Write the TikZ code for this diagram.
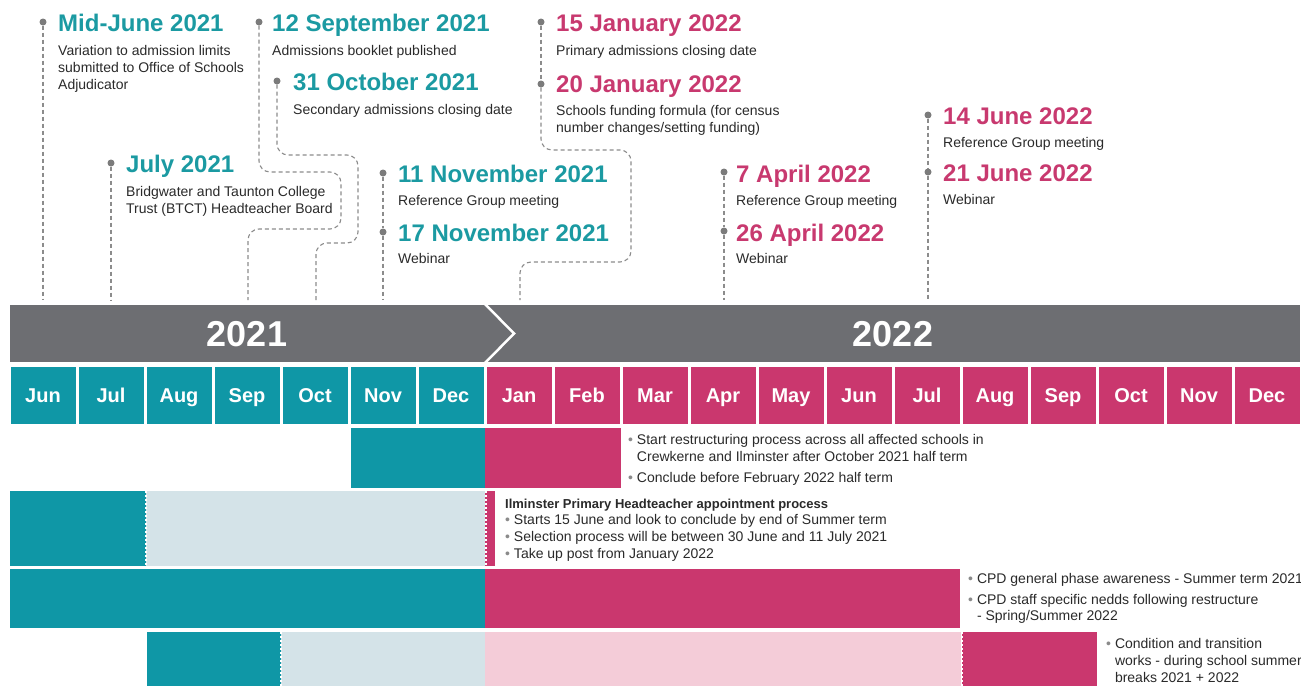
\documentclass[tikz,border=0pt]{standalone}
\usepackage{fontspec}
\setmainfont{Liberation Sans}
\definecolor{teal1}{HTML}{0F97A6}
\definecolor{pink1}{HTML}{CA376E}
\definecolor{tealT}{HTML}{1B9AA2}
\definecolor{pinkT}{HTML}{C8396F}
\definecolor{barg}{HTML}{6D6E72}
\definecolor{lblue}{HTML}{D4E3E8}
\definecolor{lpink}{HTML}{F4CCD8}
\definecolor{dotg}{HTML}{7B7B7B}
\definecolor{lineg}{HTML}{8C8C8C}
\definecolor{txt}{HTML}{2A2A2A}
\definecolor{bul}{HTML}{8A8A8A}
\newcommand{\fl}{\rule{0pt}{11pt}}
\newcommand{\bu}{{\color{bul}\textbullet}\ }
\newcommand{\bi}{\phantom{\textbullet\ }}
\tikzset{
 evdot/.style={circle, fill=dotg, inner sep=0pt, minimum size=7pt},
 conn/.style={draw=lineg, line width=1.1pt, dash pattern=on 4pt off 3pt, rounded corners=11pt},
 ttl/.style={anchor=base west, inner sep=0pt, font=\fontsize{24}{28}\selectfont\bfseries},
 dsc/.style={anchor=north west, inner sep=0pt, align=left, text=txt, font=\fontsize{14}{17}\selectfont},
 cell/.style={minimum width=65pt, minimum height=57pt, inner sep=0pt, text=white, font=\fontsize{20}{24}\selectfont\bfseries, text height=14pt, text depth=0pt},
 yr/.style={text=white, inner sep=0pt, anchor=base, font=\fontsize{36}{40}\selectfont\bfseries},
 gtxt/.style={anchor=north west, inner sep=0pt, align=left, text=txt, font=\fontsize{14}{17}\selectfont},
 perf/.style={draw=white, line width=2pt, dash pattern=on 2pt off 2pt},
}
\begin{document}
\begin{tikzpicture}[x=1pt,y=-1pt]
\useasboundingbox (0,0) rectangle (1301,686);
\fill[white] (0,0) rectangle (1301,686);

% year bar
\fill[barg] (10,305) rectangle (1300,362);
\draw[white, line width=2.5pt] (485,304) -- (514,333.5) -- (485,363);
\node[yr] (y1) at (247,346) {2021};
\node[yr] (y2) at (893,346) {2022};

% months
\foreach \m [count=\i from 0] in {Jun,Jul,Aug,Sep,Oct,Nov,Dec,Jan,Feb,Mar,Apr,May,Jun,Jul,Aug,Sep,Oct,Nov,Dec} {
  \pgfmathsetmacro\cx{43+68*\i}
  \ifnum\i<7 \def\cc{teal1}\else\def\cc{pink1}\fi
  \node[cell, fill=\cc] (m\i) at (\cx,395.5) {\m};
}

% gantt rows
\fill[teal1] (351,428) rectangle (485,488);
\fill[pink1] (485,428) rectangle (621,488);

\fill[teal1] (10,491) rectangle (146,566);
\fill[lblue] (146,491) rectangle (485,566);
\fill[pink1] (485,491) rectangle (495,566);
\draw[perf] (146,491) -- (146,566);
\draw[perf] (486,491) -- (486,566);

\fill[teal1] (10,569) rectangle (485,628);
\fill[pink1] (485,569) rectangle (960,628);

\fill[teal1] (147,632) rectangle (281,686);
\fill[lblue] (281,632) rectangle (485,686);
\fill[lpink] (485,632) rectangle (961,686);
\fill[pink1] (962,632) rectangle (1097,686);
\draw[perf] (281,632) -- (281,686);
\draw[perf] (962,632) -- (962,686);

% gantt texts
\node[gtxt] (g1) at (628,433) {\fl\bu Start restructuring process across all affected schools in\\ \bi Crewkerne and Ilminster after October 2021 half term\\[4pt] \bu Conclude before February 2022 half term};
\node[gtxt, font=\fontsize{14}{16.7}\selectfont] (g2) at (505,497) {\fl{\fontsize{13}{16.7}\selectfont\bfseries Ilminster Primary Headteacher appointment process}\\ \bu Starts 15 June and look to conclude by end of Summer term\\ \bu Selection process will be between 30 June and 11 July 2021\\ \bu Take up post from January 2022};
\node[gtxt, font=\fontsize{14}{16.5}\selectfont] (g3) at (968,572) {\fl\bu CPD general phase awareness - Summer term 2021\\[4.5pt] \bu CPD staff specific nedds following restructure\\ \bi - Spring/Summer 2022};
\node[gtxt] (g4) at (1106,637) {\fl\bu Condition and transition\\ \bi works - during school summer\\ \bi breaks 2021 + 2022};

% event dots
\node[evdot] (d1) at (43,22) {};
\node[evdot] (d2) at (259,22) {};
\node[evdot] (d3) at (277,81) {};
\node[evdot] (d4) at (111,163) {};
\node[evdot] (d5) at (383,173) {};
\node[evdot] (d6) at (383,232) {};
\node[evdot] (d7) at (541,22) {};
\node[evdot] (d8) at (541,84) {};
\node[evdot] (d9) at (724,172) {};
\node[evdot] (d10) at (724,231) {};
\node[evdot] (d11) at (928,115) {};
\node[evdot] (d12) at (928,172) {};

% line ends
\coordinate (e1) at (43,300);
\coordinate (e2) at (248,300);
\coordinate (e3) at (316,300);
\coordinate (e4) at (111,300);
\coordinate (e5) at (383,300);
\coordinate (e6) at (520,300);
\coordinate (e7) at (724,300);
\coordinate (e8) at (928,300);

\draw[conn] (d1) -- (e1);
\draw[conn] (d2) -- (259,172) -- (341,172) -- (341,229) -- (248,229) -- (e2);
\draw[conn] (d3) -- (277,155) -- (358,155) -- (358,243) -- (316,243) -- (e3);
\draw[conn] (d4) -- (e4);
\draw[conn] (d5) -- (d6);
\draw[conn] (d6) -- (e5);
\draw[conn] (d7) -- (d8);
\draw[conn] (d8) -- (541,150) -- (631,150) -- (631,262) -- (520,262) -- (e6);
\draw[conn] (d9) -- (d10);
\draw[conn] (d10) -- (e7);
\draw[conn] (d11) -- (d12);
\draw[conn] (d12) -- (e8);

% titles
\node[ttl, text=tealT] (t1) at (58,31) {Mid-June 2021};
\node[ttl, text=tealT] (t2) at (272,31) {12 September 2021};
\node[ttl, text=tealT] (t3) at (293,90) {31 October 2021};
\node[ttl, text=tealT] (t4) at (126,172) {July 2021};
\node[ttl, text=tealT] (t5) at (398,182) {11 November 2021};
\node[ttl, text=tealT] (t6) at (398,241) {17 November 2021};
\node[ttl, text=pinkT] (t7) at (556,31) {15 January 2022};
\node[ttl, text=pinkT] (t8) at (556,92) {20 January 2022};
\node[ttl, text=pinkT] (t9) at (736,182) {7 April 2022};
\node[ttl, text=pinkT] (t10) at (736,241) {26 April 2022};
\node[ttl, text=pinkT] (t11) at (943,124) {14 June 2022};
\node[ttl, text=pinkT] (t12) at (943,181) {21 June 2022};

% descriptions
\node[dsc] (s1) at (58,44) {\fl Variation to admission limits\\ submitted to Office of Schools\\ Adjudicator};
\node[dsc] (s2) at (272,44) {\fl Admissions booklet published};
\node[dsc] (s3) at (293,103) {\fl Secondary admissions closing date};
\node[dsc] (s4) at (126,185) {\fl Bridgwater and Taunton College\\ Trust (BTCT) Headteacher Board};
\node[dsc] (s5) at (398,194) {\fl Reference Group meeting};
\node[dsc] (s6) at (398,252) {\fl Webinar};
\node[dsc] (s7) at (556,44) {\fl Primary admissions closing date};
\node[dsc] (s8) at (556,104) {\fl Schools funding formula (for census\\ number changes/setting funding)};
\node[dsc] (s9) at (736,194) {\fl Reference Group meeting};
\node[dsc] (s10) at (736,252) {\fl Webinar};
\node[dsc] (s11) at (943,136) {\fl Reference Group meeting};
\node[dsc] (s12) at (943,193) {\fl Webinar};
\end{tikzpicture}
\end{document}
